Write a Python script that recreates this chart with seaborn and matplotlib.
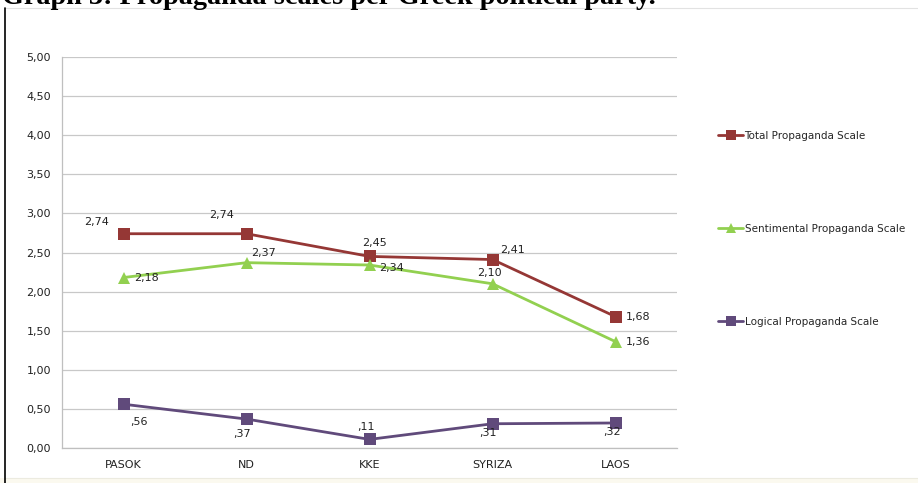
import matplotlib
matplotlib.use("Agg")
import matplotlib.pyplot as plt
import seaborn as sns
import pandas as pd
from matplotlib.patches import Rectangle
from matplotlib.lines import Line2D
from matplotlib.ticker import FixedLocator, FuncFormatter

# ---- data ----
parties = ["PASOK", "ND", "KKE", "SYRIZA", "LAOS"]
series_names = ["Total Propaganda Scale", "Sentimental Propaganda Scale", "Logical Propaganda Scale"]
total_vals = [2.74, 2.74, 2.45, 2.41, 1.68]
sentimental_vals = [2.18, 2.37, 2.34, 2.10, 1.36]
logical_vals = [0.56, 0.37, 0.11, 0.31, 0.32]
title_text = "Graph 3: Propaganda scales per Greek political party."

colors = {"Total Propaganda Scale": "#953735",
          "Sentimental Propaganda Scale": "#92D050",
          "Logical Propaganda Scale": "#604A7B"}
markers = {"Total Propaganda Scale": "s",
           "Sentimental Propaganda Scale": "^",
           "Logical Propaganda Scale": "s"}

rows = []
for name, vals in zip(series_names, [total_vals, sentimental_vals, logical_vals]):
    for i, (p, v) in enumerate(zip(parties, vals)):
        rows.append({"pos": i, "party": p, "scale": name, "value": v})
df = pd.DataFrame(rows)

sns.set_style("white")
plt.rcParams["font.family"] = ["DejaVu Sans"]

W, H = 918, 483
fig = plt.figure(figsize=(W / 100, H / 100), dpi=100)

# frame of the chart area
fig.patches.append(Rectangle((0, 0), 1, 5 / H, transform=fig.transFigure,
                             facecolor="#fbf9ef", edgecolor="none", zorder=0))
fig.add_artist(Line2D([5 / W, 1], [1 - 8 / H, 1 - 8 / H], color="#e2e2e2", lw=0.8))
fig.add_artist(Line2D([5 / W, 1], [5 / H, 5 / H], color="#ecebe0", lw=0.8))
fig.add_artist(Line2D([5 / W, 5 / W], [0, 1 - 8 / H], color="black", lw=1.2))

fig.text(2 / W, 1 - 4 / H, title_text, family="Liberation Serif", weight="bold",
         fontsize=20.3, ha="left", va="baseline", color="black")

ax = fig.add_axes([62 / W, 1 - 448 / H, (677 - 62) / W, (448 - 57) / H])

sns.lineplot(data=df, x="pos", y="value", hue="scale", style="scale",
             palette=colors, markers=markers, dashes=False, markersize=8,
             markeredgewidth=0, linewidth=2.0, ax=ax, legend=False, sort=False)

ax.set_xlim(-0.5, 4.5)
ax.set_ylim(0, 5)
ax.yaxis.set_major_locator(FixedLocator([i * 0.5 for i in range(11)]))
ax.yaxis.set_major_formatter(FuncFormatter(lambda v, _: f"{v:.2f}".replace(".", ",")))
ax.set_xticks(range(len(parties)))
ax.set_xticklabels(parties)
ax.set_xticks([i - 0.5 for i in range(len(parties) + 1)], minor=True)
ax.tick_params(axis="x", which="major", length=0, pad=9, labelsize=8, colors="#222222")
ax.tick_params(axis="x", which="minor", length=5, width=0.8, color="#bfbfbf", direction="out")
ax.tick_params(axis="y", which="major", length=5, width=0.8, color="#bfbfbf",
               direction="out", pad=3, labelsize=8, labelcolor="#222222")
ax.grid(axis="y", color="#c8c8c8", lw=0.9)
ax.grid(axis="x", visible=False)
ax.set_axisbelow(True)
ax.set_xlabel("")
ax.set_ylabel("")
for s in ["top", "right"]:
    ax.spines[s].set_visible(False)
for s in ["left", "bottom"]:
    ax.spines[s].set_color("#bfbfbf")
    ax.spines[s].set_linewidth(0.9)

# value labels: offsets in pixels (dx, dy up)
offsets = {
    "Total Propaganda Scale": [(-27, 12), (-25, 19), (5, 13), (20, 10), (23, 0)],
    "Sentimental Propaganda Scale": [(23, 0), (17, 10), (22, -3), (-3, 11), (23, 0)],
    "Logical Propaganda Scale": [(15, -18), (-4, -15), (-4, 12), (-5, -9), (-3, -9)],
}

def fmt(v):
    s = f"{v:.2f}".replace(".", ",")
    return s[1:] if s.startswith("0") else s

for name, vals in zip(series_names, [total_vals, sentimental_vals, logical_vals]):
    for i, v in enumerate(vals):
        dx, dy = offsets[name][i]
        ax.annotate(fmt(v), (i, v), xytext=(dx * 0.72, dy * 0.72),
                    textcoords="offset points", ha="center", va="center",
                    fontsize=8, color="#222222")

# legend
handles = [Line2D([], [], color=colors[n], marker=markers[n], markersize=7,
                  markeredgewidth=0, lw=2.0) for n in series_names]
fig.legend(handles, series_names, loc="upper left",
           bbox_to_anchor=(718 / W, 1 - 131 / H), frameon=False,
           fontsize=7.5, labelspacing=7.95, handlelength=2.4, handletextpad=0.15,
           borderaxespad=0, borderpad=0)

fig.savefig("out.png", dpi=100)
